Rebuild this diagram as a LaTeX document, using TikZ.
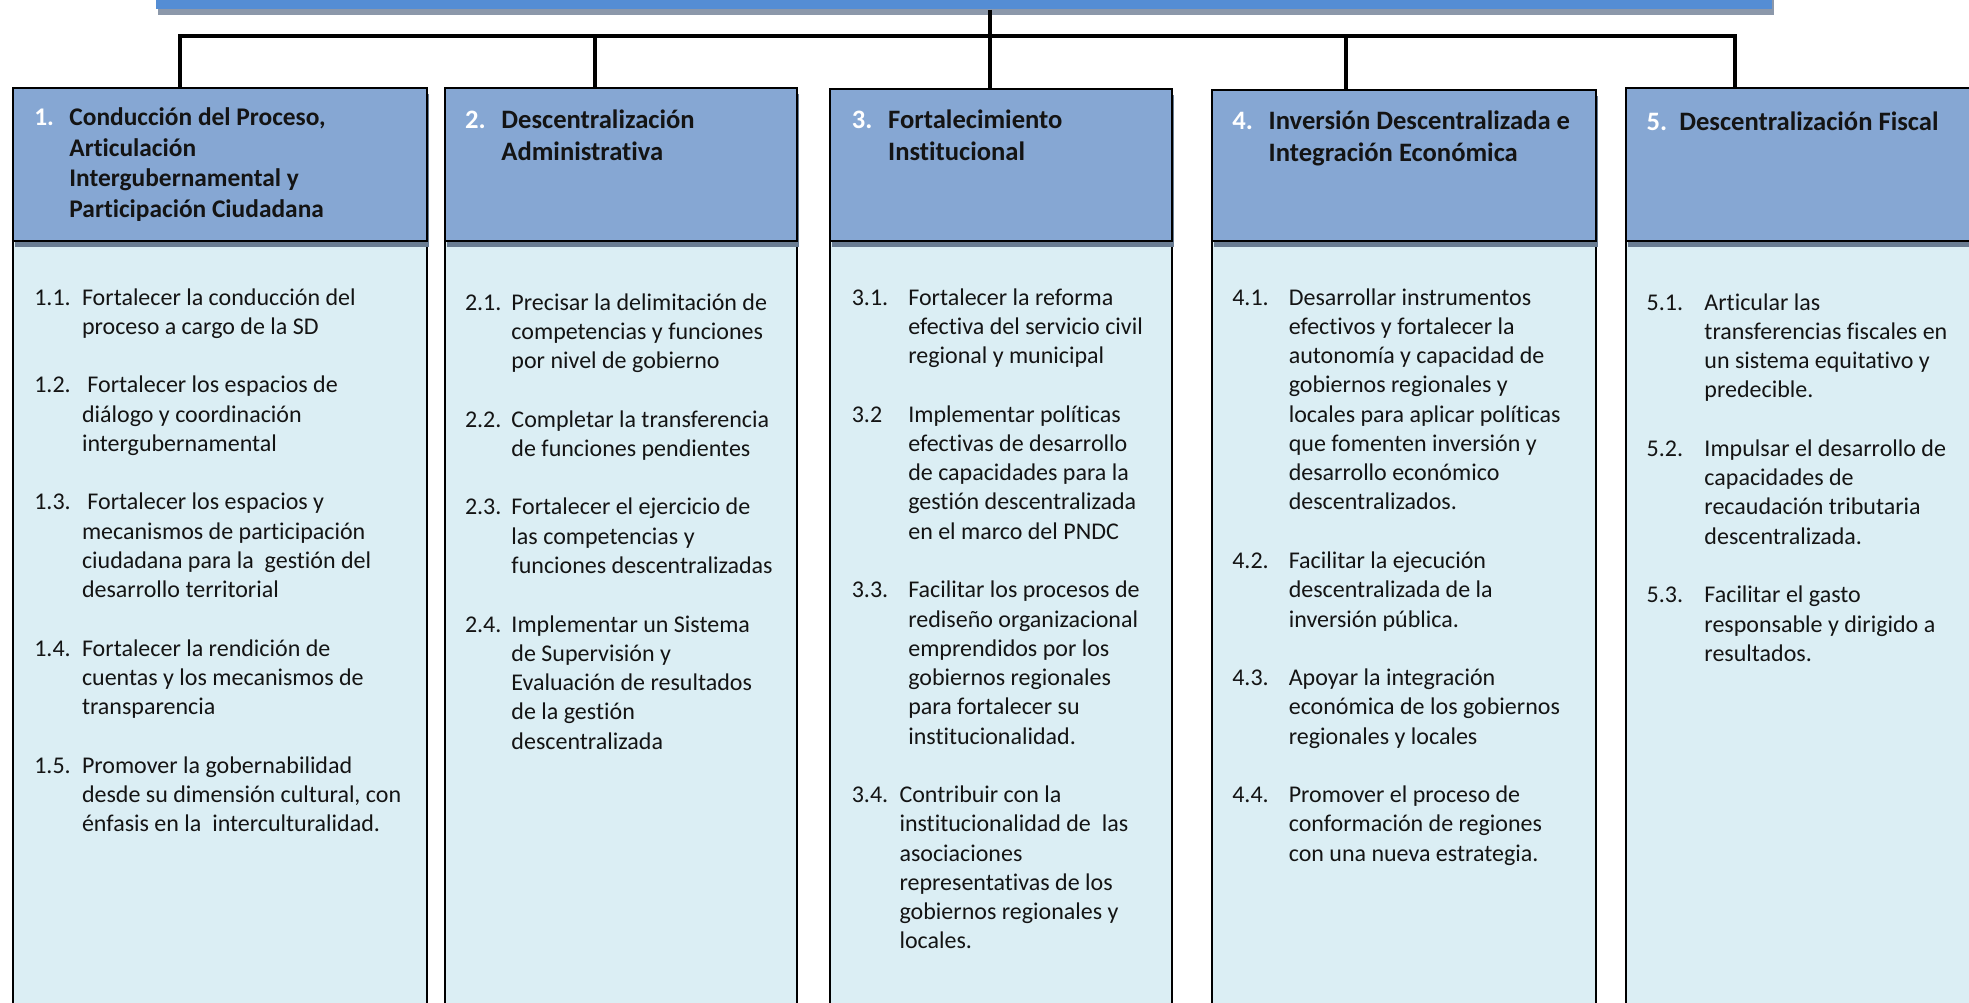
\documentclass[tikz,border=0pt]{standalone}
\usepackage{fontspec}
\setmainfont{Carlito}[Ligatures={NoCommon,NoContextual}]
\usetikzlibrary{fit,shadows}
\definecolor{topblue}{RGB}{84,141,212}
\definecolor{topshadow}{RGB}{140,152,170}
\definecolor{hdrblue}{RGB}{134,167,211}
\definecolor{hdrshadow}{RGB}{105,124,146}
\definecolor{bodyblue}{RGB}{219,238,244}
\definecolor{txtcol}{RGB}{20,20,20}
\newcommand\bodyfont{\fontsize{12}{14.63}\selectfont}
\newcommand\hdrfont{\fontsize{12.7}{15.3}\selectfont\bfseries}
\newcommand\hdrbigfont{\fontsize{13.3}{16.1}\selectfont\bfseries}
% item: name, label x, text x, baseline y, label, lines
\newcommand\itm[6]{%
  \node[lbl] (l#1) at (#2,#4+5) {#5};
  \node[txt] (t#1) at (#3,#4+5) {\begin{tabular}[t]{@{}l@{}}#6\end{tabular}};}
% header: name, number x, title x, baseline y, number, lines
\newcommand\hdr[6]{%
  \node[hnum] (n#1) at (#2,#4+2) {#5};
  \node[htxt] (ht#1) at (#3,#4+2) {\begin{tabular}[t]{@{}l@{}}#6\end{tabular}};}
\begin{document}
\begin{tikzpicture}[x=0.62787pt,y=-0.62787pt,
  bodybox/.style={draw=black, line width=1pt, fill=bodyblue, inner sep=0pt},
  hdrbox/.style={draw=black, line width=1pt, fill=hdrblue, inner sep=0pt,
     general shadow={fill=hdrshadow, shadow xshift=1pt, shadow yshift=-3pt}},
  topbar/.style={fill=topblue, inner sep=0pt,
     general shadow={fill=topshadow, shadow xshift=1pt, shadow yshift=-3pt}},
  conn/.style={draw=black, line width=2pt, line join=miter},
  lbl/.style={anchor=base west, inner sep=0pt, font=\bodyfont, text=txtcol},
  txt/.style={anchor=base west, inner sep=0pt, font=\bodyfont, text=txtcol},
  hnum/.style={anchor=base west, inner sep=0pt, font=\hdrbigfont, text=white},
  htxt/.style={anchor=base west, inner sep=0pt, font=\hdrbigfont, text=txtcol},
  small/.style={font=\hdrfont}]
\useasboundingbox (0,0) rectangle (1568,798);
\clip (0,0) rectangle (1568,798);

% bodies
\node[bodybox, fit={(10,192) (340,840)}] (b1) {};
\node[bodybox, fit={(354,192) (635,840)}] (b2) {};
\node[bodybox, fit={(661,192) (933,840)}] (b3) {};
\node[bodybox, fit={(965,192) (1271,840)}] (b4) {};
\node[bodybox, fit={(1295,192) (1620,840)}] (b5) {};

% headers
\node[hdrbox, fit={(10,70) (340,192)}] (h1) {};
\node[hdrbox, fit={(354,70) (635,192)}] (h2) {};
\node[hdrbox, fit={(661,71) (933,192)}] (h3) {};
\node[hdrbox, fit={(965,72) (1271,192)}] (h4) {};
\node[hdrbox, fit={(1295,70) (1620,192)}] (h5) {};

% top bar
\node[topbar, fit={(124,-30) (1411,7.5)}] (top) {};

% connector attachment points
\coordinate (c1) at (143,70);
\coordinate (c2) at (474,70);
\coordinate (c3) at (788,71);
\coordinate (c4) at (1072,72);
\coordinate (c5) at (1382,70);
\coordinate (bus) at (0,28.3);

\draw[conn] (c3 |- top.south) -- (c3 |- bus);
\draw[conn] (c1) -- (c1 |- bus) -- (c5 |- bus) -- (c5);
\draw[conn] (c2 |- bus) -- (c2);
\draw[conn] (c3 |- bus) -- (c3);
\draw[conn] (c4 |- bus) -- (c4);

% header texts
\begin{scope}[hnum/.append style={font=\hdrfont}, htxt/.append style={font=\hdrfont}]
\hdr{1}{27}{55}{98}{1.}{Conducción del Proceso,\\Articulación\\Intergubernamental y\\Participación Ciudadana}
\end{scope}
\hdr{2}{370}{399}{100}{2.}{Descentralización\\Administrativa}
\hdr{3}{678}{707}{100}{3.}{Fortalecimiento\\Institucional}
\hdr{4}{981}{1010}{101}{4.}{Inversión Descentralizada e\\Integración Económica}
\hdr{5}{1311}{1337}{102}{5.}{Descentralización Fiscal}

% column 1
\itm{11}{27}{65}{238}{1.1.}{Fortalecer la conducción del\\proceso a cargo de la SD}
\itm{12}{27}{65}{307.9}{1.2.}{\hspace{2.7pt}Fortalecer los espacios de\\diálogo y coordinación\\intergubernamental}
\itm{13}{27}{65}{401.1}{1.3.}{\hspace{2.7pt}Fortalecer los espacios y\\mecanismos de participación\\ciudadana para la\ \ gestión del\\desarrollo territorial}
\itm{14}{27}{65}{517.6}{1.4.}{Fortalecer la rendición de\\cuentas y los mecanismos de\\transparencia}
\itm{15}{27}{65}{610.8}{1.5.}{Promover la gobernabilidad\\desde su dimensión cultural, con\\énfasis en la\ \ interculturalidad.}

% column 2
\itm{21}{370}{407}{242}{2.1.}{Precisar la delimitación de\\competencias y funciones\\por nivel de gobierno}
\itm{22}{370}{407}{335.2}{2.2.}{Completar la transferencia\\de funciones pendientes}
\itm{23}{370}{407}{405.1}{2.3.}{Fortalecer el ejercicio de\\las competencias y\\funciones descentralizadas}
\itm{24}{370}{407}{498.3}{2.4.}{Implementar un Sistema\\de Supervisión y\\Evaluación de resultados\\de la gestión\\descentralizada}

% column 3
\itm{31}{678}{723}{238}{3.1.}{Fortalecer la reforma\\efectiva del servicio civil\\regional y municipal}
\itm{32}{678}{723}{331.2}{3.2}{Implementar políticas\\efectivas de desarrollo\\de capacidades para la\\gestión descentralizada\\en el marco del PNDC}
\itm{33}{678}{723}{471}{3.3.}{Facilitar los procesos de\\rediseño organizacional\\emprendidos por los\\gobiernos regionales\\para fortalecer su\\institucionalidad.}
\itm{34}{678}{716}{634.1}{3.4.}{Contribuir con la\\institucionalidad de\ \ las\\asociaciones\\representativas de los\\gobiernos regionales y\\locales.}

% column 4
\itm{41}{981}{1026}{238}{4.1.}{Desarrollar instrumentos\\efectivos y fortalecer la\\autonomía y capacidad de\\gobiernos regionales y\\locales para aplicar políticas\\que fomenten inversión y\\desarrollo económico\\descentralizados.}
\itm{42}{981}{1026}{447.7}{4.2.}{Facilitar la ejecución\\descentralizada de la\\inversión pública.}
\itm{43}{981}{1026}{540.9}{4.3.}{Apoyar la integración\\económica de los gobiernos\\regionales y locales}
\itm{44}{981}{1026}{634.1}{4.4.}{Promover el proceso de\\conformación de regiones\\con una nueva estrategia.}

% column 5
\itm{51}{1311}{1357}{242}{5.1.}{Articular las\\transferencias fiscales en\\un sistema equitativo y\\predecible.}
\itm{52}{1311}{1357}{358.5}{5.2.}{Impulsar el desarrollo de\\capacidades de\\recaudación tributaria\\descentralizada.}
\itm{53}{1311}{1357}{475}{5.3.}{Facilitar el gasto\\responsable y dirigido a\\resultados.}
\end{tikzpicture}
\end{document}
